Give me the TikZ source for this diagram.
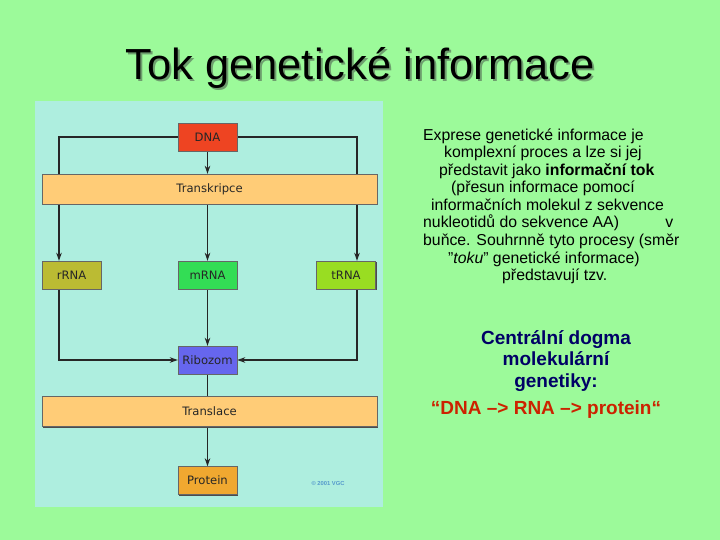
\documentclass[tikz,border=0pt]{standalone}
\usepackage{fontspec}
\setmainfont{Liberation Sans}
\newfontfamily\boxfont{DejaVu Sans}
\usetikzlibrary{shadows,calc,arrows.meta}
\definecolor{bgc}{HTML}{9CFA9A}
\definecolor{panelc}{HTML}{AEEEDF}
\definecolor{dnac}{HTML}{EE4422}
\definecolor{barc}{HTML}{FFCC77}
\definecolor{rrnac}{HTML}{BBBB33}
\definecolor{mrnac}{HTML}{33DD55}
\definecolor{trnac}{HTML}{99DD22}
\definecolor{ribc}{HTML}{6666EE}
\definecolor{protc}{HTML}{F0A830}
\definecolor{navy}{HTML}{000066}
\definecolor{redt}{HTML}{CC2200}
\definecolor{copyc}{HTML}{5599CC}
\definecolor{shadowc}{HTML}{6E9E6E}
\pgfdeclarelayer{background}
\pgfdeclarelayer{lines}
\pgfsetlayers{background,lines,main}
\begin{document}
\begin{tikzpicture}[x=1pt,y=-1pt,
  box/.style={draw=black!60, line width=0.4pt, minimum width=59pt, minimum height=28pt, inner sep=0pt,
    font=\boxfont\fontsize{11.6}{14}\selectfont, text=black!85,
    drop shadow={shadow xshift=1.3pt,shadow yshift=-1.3pt,fill=black!70,opacity=1}},
  bar/.style={box, minimum width=335pt, minimum height=30pt, fill=barc},
  conn/.style={line width=1.1pt, draw=black!85},
  arr/.style={conn, -{Stealth[length=8pt,width=5.5pt]}},
  body/.style={anchor=base west, inner sep=0pt, font=\fontsize{15.8}{18}\selectfont, text=black},
  dogma/.style={anchor=base, inner sep=0pt, font=\fontsize{19}{21}\selectfont\bfseries, text=navy},
  titlestyle/.style={inner sep=0pt, font=\fontsize{43.5}{50}\selectfont}]
\useasboundingbox (0,0) rectangle (720,540);
\begin{pgfonlayer}{background}
\fill[bgc] (0,0) rectangle (720,540);
\fill[panelc] (35,101) rectangle (383,507);
\end{pgfonlayer}
% title
\node[titlestyle, text=shadowc] (titleshadow) at (362,70) {Tok genetické informace};
\node[titlestyle, text=black] (title) at (360,68) {Tok genetické informace};
% diagram nodes
\node[box, fill=dnac] (dna) at (207.5,137) {DNA};
\node[bar] (transk) at (209.5,189) {Transkripce};
\node[box, fill=rrnac] (rrna) at (71.5,275) {rRNA};
\node[box, fill=mrnac] (mrna) at (207.5,275) {mRNA};
\node[box, fill=trnac] (trna) at (346,275) {tRNA};
\node[box, fill=ribc] (rib) at (207.5,360) {Ribozom};
\node[bar] (transl) at (209.5,411.5) {Translace};
\node[box, fill=protc] (prot) at (207.5,480.5) {Protein};
\node[font=\fontsize{5.8}{6}\selectfont\bfseries, text=copyc] (copy) at (328,483) {\textcopyright\ 2001 VGC};
\coordinate (L) at (59,0);
\coordinate (R) at (357,0);
% connectors
\begin{pgfonlayer}{lines}
\draw[arr] (dna.west) -| (L |- rrna.north);
\draw[arr] (dna.east) -| (R |- trna.north);
\draw[arr] (dna.south) -- (transk.north -| dna.south);
\draw[arr] (transk.south -| mrna.north) -- (mrna.north);
\draw[arr] (mrna.south) -- (rib.north);
\draw[arr] (L |- rrna.south) |- (rib.west);
\draw[arr] (R |- trna.south) |- (rib.east);
\draw[conn] (rib.south) -- (transl.north -| rib.south);
\draw[arr] (transl.south -| prot.north) -- (prot.north);
\end{pgfonlayer}
% right text
\node[body] (t1) at (423,140.5) {Exprese genetické informace je};
\node[body] (t2) at (444,158) {komplexní proces a lze si jej};
\node[body] (t3) at (439,175.5) {představit jako \textbf{informační tok}};
\node[body] (t4) at (451,193) {(přesun informace pomocí};
\node[body] (t5) at (431,210.5) {informačních molekul z sekvence};
\node[body] (t6) at (423,228) {\makebox[250pt][l]{nukleotidů do sekvence AA)\hfill v}};
\node[body] (t7) at (423,245.5) {buňce. Souhrnně tyto procesy (směr};
\node[body] (t8) at (448,263) {\char"22\textit{toku}\char"22\ genetické informace)};
\node[body] (t9) at (502,280.5) {představují tzv.};
\node[dogma] (d1) at (556,344) {Centrální dogma};
\node[dogma] (d2) at (556,365) {molekulární};
\node[dogma] (d3) at (556,387) {genetiky:};
\node[dogma, text=redt] (d4) at (546,414) {“DNA –> RNA –> protein“};
\end{tikzpicture}
\end{document}
